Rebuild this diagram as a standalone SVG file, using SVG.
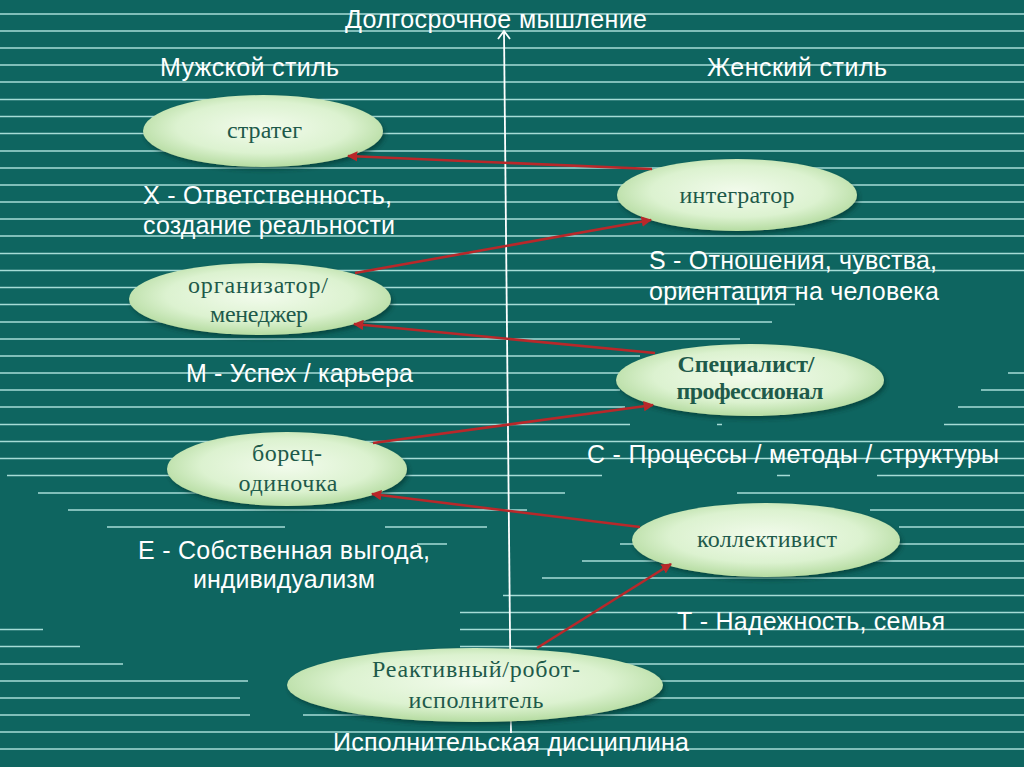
<svg xmlns="http://www.w3.org/2000/svg" width="1024" height="767" viewBox="0 0 1024 767">
<defs>
<radialGradient id="eg" cx="50%" cy="45%" r="55%">
<stop offset="0%" stop-color="#f2fbec"/>
<stop offset="65%" stop-color="#dcf2d0"/>
<stop offset="100%" stop-color="#b6dca2"/>
</radialGradient>
<filter id="sh" x="-10%" y="-20%" width="125%" height="150%">
<feDropShadow dx="2" dy="3" stdDeviation="2" flood-color="#05332f" flood-opacity="0.6"/>
</filter>
<marker id="ah" viewBox="0 0 10 10" refX="9" refY="5" markerWidth="4" markerHeight="4" orient="auto" markerUnits="strokeWidth">
<path d="M0,0 L10,5 L0,10 z" fill="#b8282a"/>
</marker>
</defs>
<style>
.st{stroke:#a6dcd6;stroke-width:1.6;fill:none}
.lbl{font-family:"Liberation Sans",Arial,sans-serif;font-size:25px;fill:#ffffff;text-anchor:middle}
.nd{fill:url(#eg);filter:url(#sh)}
.nt{font-family:"Liberation Serif","Times New Roman",serif;font-size:24px;fill:#1e5a4a;text-anchor:middle}
.bd{font-weight:bold}
.cn{stroke:#b8282a;stroke-width:2.6;fill:none;marker-end:url(#ah)}
</style>
<rect x="0" y="0" width="1024" height="767" fill="#0e6560"/>
<g id="stripes" class="st">
<path d="M0,14H1024M0,31H1024M0,48H1024M0,65H1024M0,82H1024M0,99.5H1024M0,116.5H1024M0,133.5H1024M0,151H1024M0,168H1024M0,185H1024M0,202H1024M0,219H1024M0,236H1024M0,253.5H1024M0,270.5H1024"/>
<path d="M0,287.5H803M0,304.5H795M0,322H772M0,339H740M0,356H640M0,373H625M1008,373H1024M0,390H620M981,390H1024M0,407H625M958,407H1024M0,424.5H630M717,424.5H722M944,424.5H1024M0,441.5H1024M0,458.5H1024"/>
<path d="M7,475.5H602M777,475.5H790M877,475.5H1024M38,493H565M737,493H1024M68,510H527M870,510H1024M107,527H285M385,527H487M899,527H1024M417,544H447M620,544H1024M582,561H1024M542,578H1024M503,595.5H1024M460,612.5H1024M0,629.5H43M460,629.5H1024M0,646.5H80M460,646.5H1024M0,664H123M330,664H1024M0,681H248M290,681H1024M0,698H240M300,698H1024M0,715H250M303,715H1024M0,732H1024M0,749H1024"/>
</g>
<g id="axis" stroke="#ffffff" stroke-width="1.8" fill="none">
<line x1="511" y1="733" x2="504" y2="32"/>
<polyline points="498,39 504,31 510,39"/>
</g>
<g id="labels">
<text class="lbl" x="496" y="28" textLength="302">Долгосрочное мышление</text>
<text class="lbl" x="249.5" y="76" textLength="179">Мужской стиль</text>
<text class="lbl" x="797" y="76" textLength="180">Женский стиль</text>
<text class="lbl" x="267.5" y="204" textLength="249">X - Ответственность,</text>
<text class="lbl" x="269" y="234" textLength="252">создание реальности</text>
<text class="lbl" x="793" y="269" textLength="288">S - Отношения, чувства,</text>
<text class="lbl" x="794" y="300" textLength="290">ориентация на человека</text>
<text class="lbl" x="299.5" y="382" textLength="227">М - Успех / карьера</text>
<text class="lbl" x="793" y="463" textLength="412">С - Процессы / методы / структуры</text>
<text class="lbl" x="284" y="559" textLength="292">Е - Собственная выгода,</text>
<text class="lbl" x="284" y="588" textLength="182">индивидуализм</text>
<text class="lbl" x="811" y="630" textLength="268">Т - Надежность, семья</text>
<text class="lbl" x="511" y="751" textLength="356">Исполнительская дисциплина</text>
</g>
<g id="node-strateg">
<ellipse class="nd" cx="263" cy="131" rx="120" ry="36"/>
<text class="nt" x="264.5" y="138" textLength="75">стратег</text>
</g>
<g id="node-integrator">
<ellipse class="nd" cx="737" cy="195" rx="120" ry="36"/>
<text class="nt" x="737" y="203" textLength="115">интегратор</text>
</g>
<g id="node-organizer">
<ellipse class="nd" cx="260" cy="299" rx="131" ry="36"/>
<text class="nt" x="258" y="293" textLength="140">организатор/</text>
<text class="nt" x="259" y="322" textLength="98">менеджер</text>
</g>
<g id="node-specialist">
<ellipse class="nd" cx="750" cy="380" rx="134" ry="36"/>
<text class="nt bd" x="746" y="372" textLength="137">Специалист/</text>
<text class="nt bd" x="750" y="399" textLength="147">профессионал</text>
</g>
<g id="node-borets">
<ellipse class="nd" cx="287" cy="469" rx="120" ry="37"/>
<text class="nt" x="287" y="461" textLength="70">борец-</text>
<text class="nt" x="288" y="491" textLength="99">одиночка</text>
</g>
<g id="node-collectivist">
<ellipse class="nd" cx="766" cy="540" rx="134" ry="37"/>
<text class="nt" x="767" y="547" textLength="140">коллективист</text>
</g>
<g id="node-reactive">
<ellipse class="nd" cx="475" cy="685" rx="188" ry="37"/>
<text class="nt" x="476" y="677" textLength="208">Реактивный/робот-</text>
<text class="nt" x="476" y="708" textLength="135">исполнитель</text>
</g>
<g id="connectors">
<line class="cn" x1="652" y1="169" x2="348" y2="156"/>
<line class="cn" x1="355" y1="273" x2="651" y2="220"/>
<line class="cn" x1="655" y1="353" x2="354" y2="324"/>
<line class="cn" x1="373" y1="443" x2="653" y2="405"/>
<line class="cn" x1="640" y1="527" x2="372" y2="494"/>
<line class="cn" x1="537" y1="648" x2="671" y2="564"/>
</g>
</svg>
